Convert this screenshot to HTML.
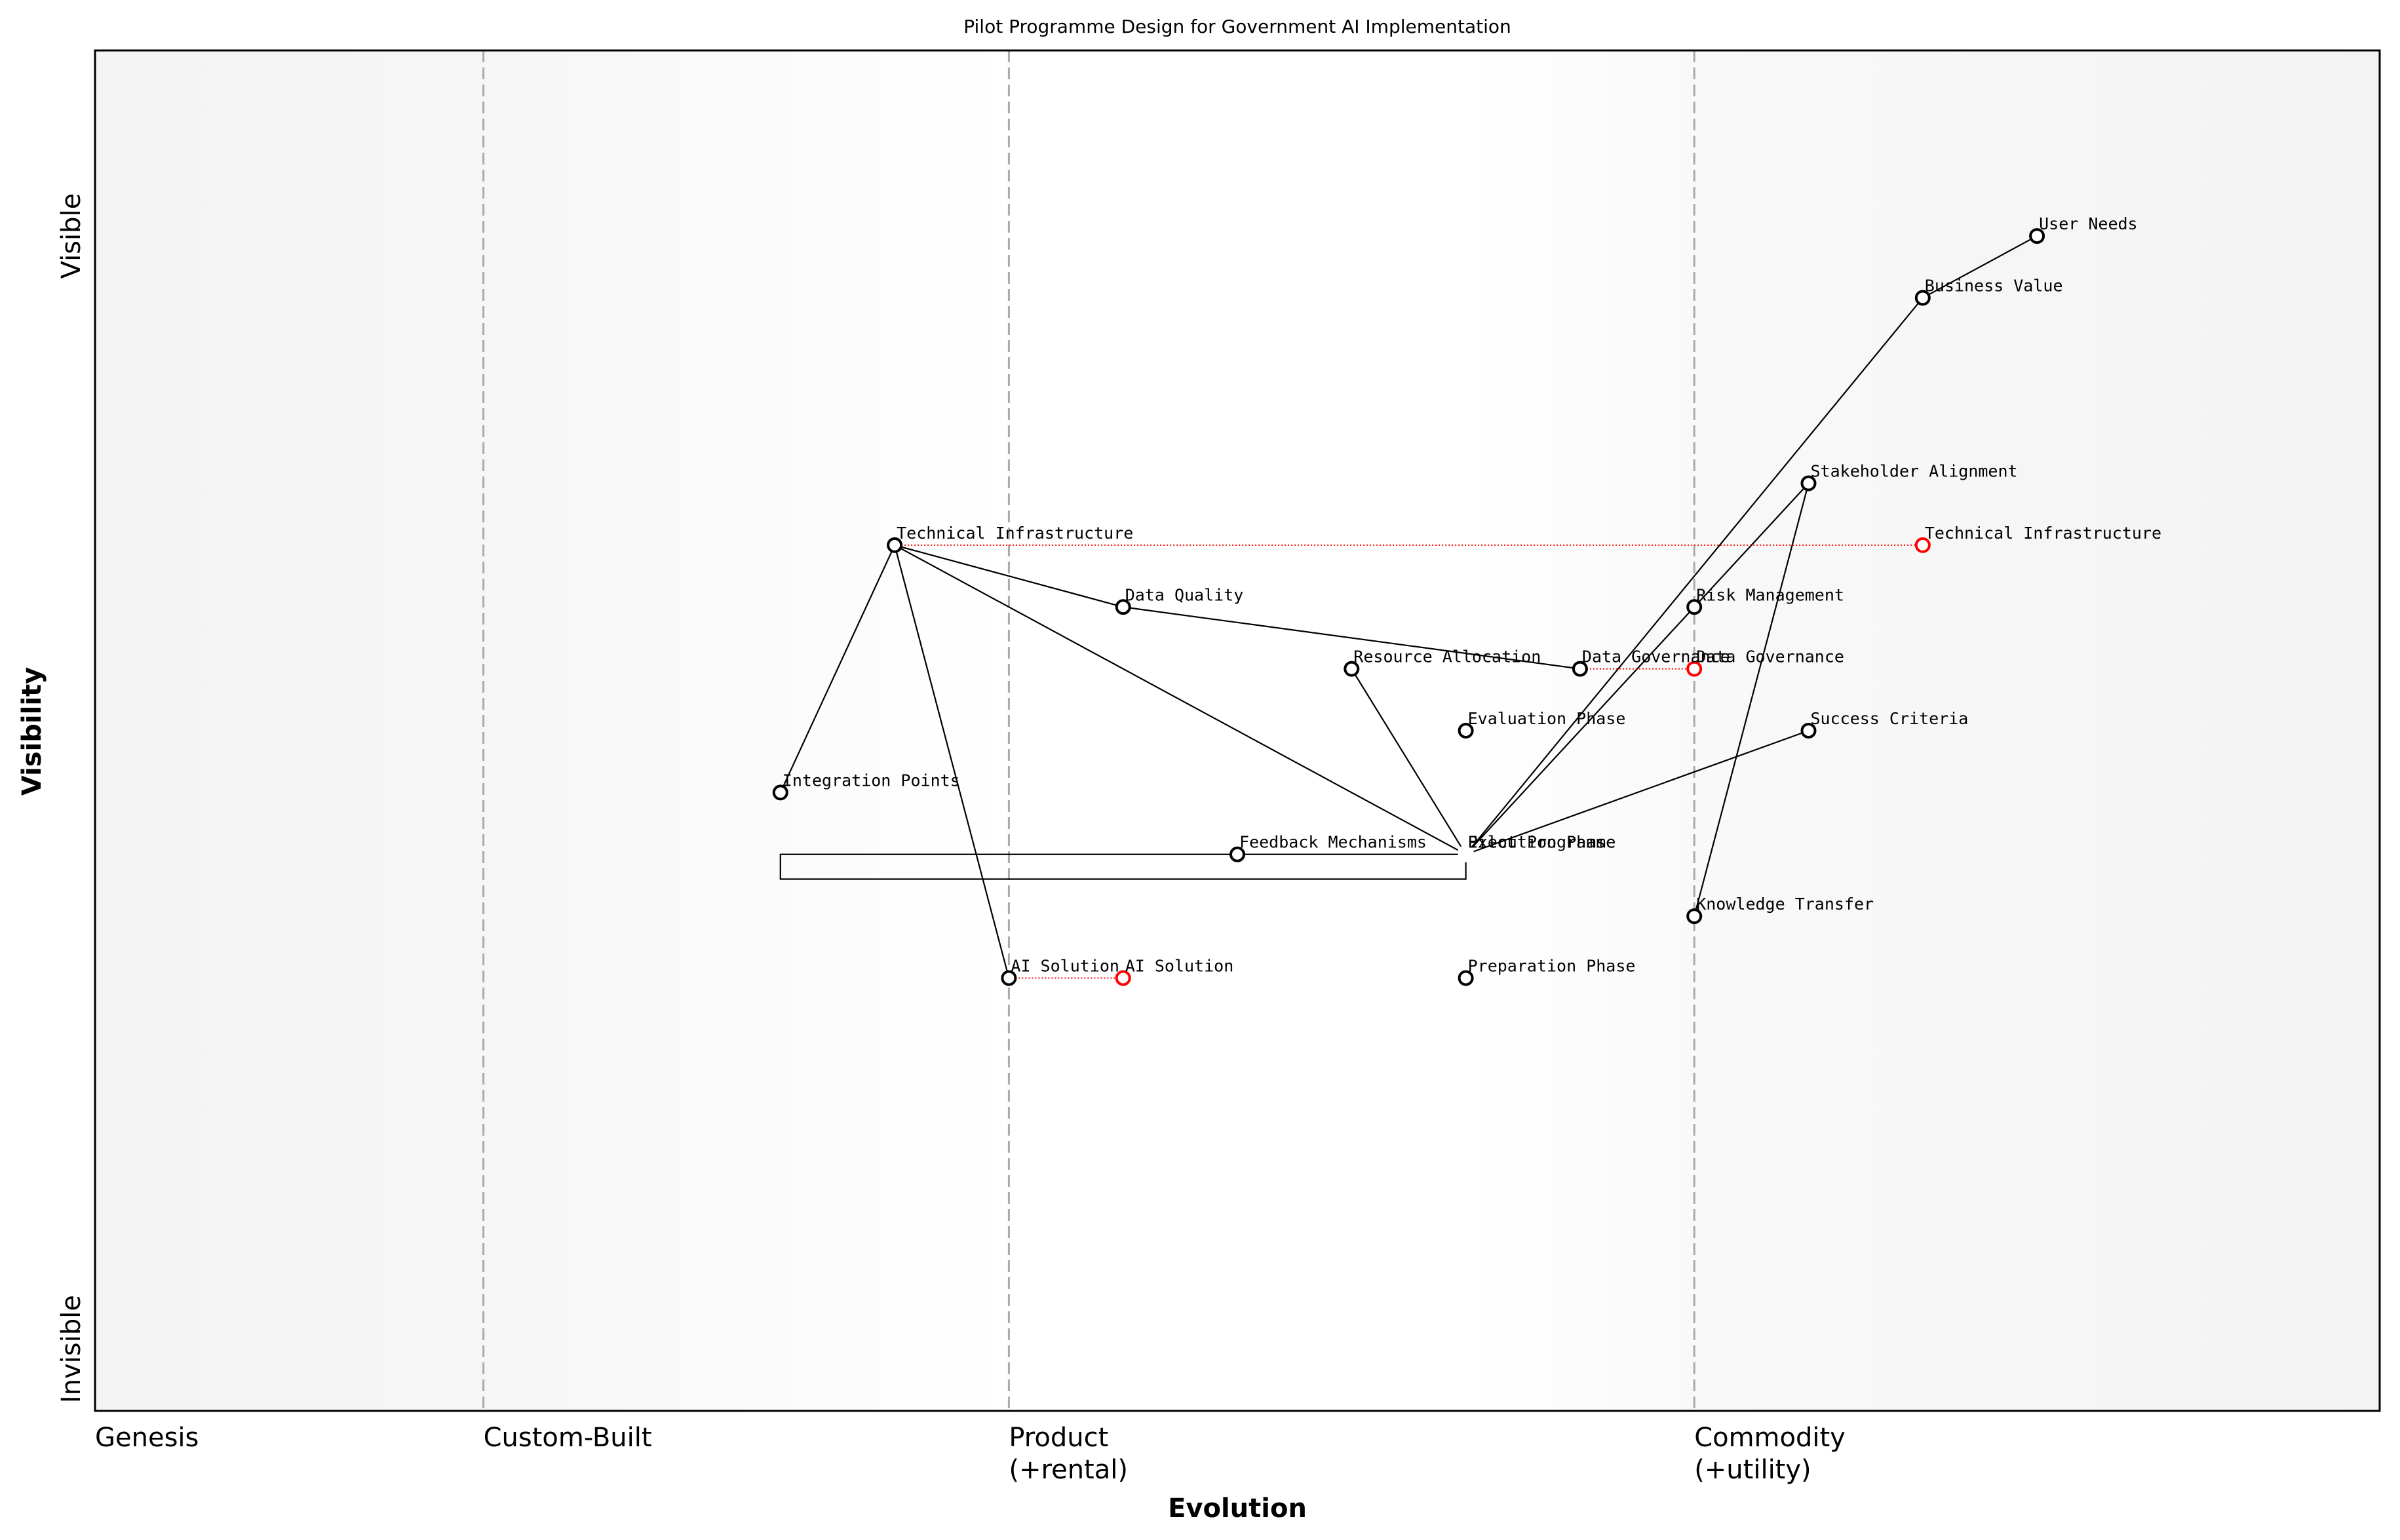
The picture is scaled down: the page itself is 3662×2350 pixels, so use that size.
<!DOCTYPE html>
<html><head><meta charset="utf-8"><style>body{margin:0;background:#fff}svg{display:block}</style></head>
<body>
<svg id="chart" width="3662" height="2350" viewBox="0 0 3662 2350" xmlns="http://www.w3.org/2000/svg" font-family="'DejaVu Sans','Liberation Sans',sans-serif">
<defs>
<linearGradient id="bg" x1="0" x2="1" y1="0" y2="0">
<stop offset="0" stop-color="#f4f4f4"/><stop offset="0.17" stop-color="#f6f6f6"/><stop offset="0.4" stop-color="#ffffff"/><stop offset="0.6" stop-color="#ffffff"/><stop offset="0.7" stop-color="#f9f9f9"/><stop offset="1" stop-color="#f3f3f3"/>
</linearGradient>
</defs>
<rect x="145" y="77" width="3486" height="2076" fill="url(#bg)"/>
<g id="grid"></g><g id="edges"></g><g id="nodes"></g>
<rect x="145" y="77" width="3486" height="2076" fill="none" stroke="#000" stroke-width="3"/>
<text x="1888" y="50" font-size="28" text-anchor="middle">Pilot Programme Design for Government AI Implementation</text>
<text x="1888" y="2315" font-size="40" font-weight="bold" text-anchor="middle">Evolution</text>
<text transform="translate(62,1116) rotate(-90)" font-size="40" font-weight="bold" text-anchor="middle">Visibility</text>
<g id="ticks"></g>
</svg>
<script>
const NS='http://www.w3.org/2000/svg';
const stageNames=['Genesis','Custom-Built','Product','Commodity'];
const stageSub=['','','(+rental)','(+utility)'];
const stagePos=[0,0.17,0.4,0.7];
const yTickLabels=['Visible','Invisible'];
const yTickPos=[0.95,0.05];
const nodeNames=['User Needs','Business Value','Stakeholder Alignment','Technical Infrastructure','Risk Management','Data Quality','Data Governance','Resource Allocation','Evaluation Phase','Success Criteria','Integration Points','Feedback Mechanisms','Knowledge Transfer','AI Solution','Preparation Phase'];
const nodeEvo=[0.85,0.80,0.75,0.35,0.70,0.45,0.65,0.55,0.60,0.75,0.30,0.50,0.70,0.40,0.60];
const nodeVis=[0.95,0.90,0.75,0.70,0.65,0.65,0.60,0.60,0.55,0.55,0.50,0.45,0.40,0.35,0.35];
const hubNames=['Pilot Programme','Execution Phase'];
const hubEvo=[0.60,0.60];
const hubVis=[0.45,0.45];
const edgeFrom=['User Needs','Business Value','Pilot Programme','Stakeholder Alignment','Pilot Programme','Pilot Programme','Technical Infrastructure','Technical Infrastructure','Data Quality','Technical Infrastructure','Technical Infrastructure','Feedback Mechanisms'];
const edgeTo=['Business Value','Pilot Programme','Stakeholder Alignment','Knowledge Transfer','Success Criteria','Resource Allocation','Pilot Programme','Data Quality','Data Governance','Integration Points','AI Solution','Pilot Programme'];
const evoFrom=['Technical Infrastructure','Data Governance','AI Solution'];
const evoTarget=[0.80,0.70,0.45];
const loopX=[0.50,0.30,0.30,0.60,0.60];
const loopY=[0.45,0.45,0.43,0.43,0.445];
const X=v=>145+v*3486, Y=v=>2153-v/1.1*2076;
function mk(tag,attrs,parent){const e=document.createElementNS(NS,tag);for(const k in attrs)e.setAttribute(k,attrs[k]);parent.appendChild(e);return e;}
const grid=document.getElementById('grid'),ticks=document.getElementById('ticks'),edges=document.getElementById('edges'),nodes=document.getElementById('nodes');
stagePos.forEach((p,i)=>{
 if(i>0){const l=mk('line',{x1:X(p),x2:X(p),y1:77,y2:2153,stroke:'#aaa','stroke-width':3,'stroke-dasharray':'18,8'},grid);
 
 }
 const t=mk('text',{x:X(p),y:2207,'font-size':40},ticks);t.textContent=stageNames[i];
 
 
 if(stageSub[i]){const s=mk('text',{x:X(p),y:2256,'font-size':40},ticks);s.textContent=stageSub[i];
 
 }
});
yTickPos.forEach((p,i)=>{const t=mk('text',{transform:`translate(122,${Y(p)}) rotate(-90)`,'font-size':40,'text-anchor':'middle'},ticks);t.textContent=yTickLabels[i];
 
 });
const pos={};
nodeNames.forEach((n,i)=>pos[n]=[nodeEvo[i],nodeVis[i]]);
hubNames.forEach((n,i)=>pos[n]=[hubEvo[i],hubVis[i]]);
edgeFrom.forEach((a,i)=>{const b=edgeTo[i];const l=mk('line',{x1:X(pos[a][0]),y1:Y(pos[a][1]),x2:X(pos[b][0]),y2:Y(pos[b][1]),stroke:'#000','stroke-width':2.2},edges);
 
 });
const lp=mk('polyline',{points:loopX.map((x,i)=>X(x)+','+Y(loopY[i])).join(' '),fill:'none',stroke:'#000','stroke-width':2.2},edges);


evoFrom.forEach((n,i)=>{const l=mk('line',{x1:X(pos[n][0]),y1:Y(pos[n][1]),x2:X(evoTarget[i]),y2:Y(pos[n][1]),stroke:'red','stroke-width':2,'stroke-dasharray':'2,3'},edges);
 
 });
function label(txt,x,y){const t=mk('text',{x:X(x)+3,y:Y(y)-10,'font-size':25,'font-family':"'DejaVu Sans Mono','Liberation Mono',monospace"},nodes);t.textContent=txt;
 
 }
const hr=mk('rect',{x:X(0.6)-12,y:Y(0.45)-12,width:24,height:24,fill:'#fff'},nodes);


hubNames.forEach((n,i)=>label(n,hubEvo[i],hubVis[i]));
evoFrom.forEach((n,i)=>{const c=mk('circle',{cx:X(evoTarget[i]),cy:Y(pos[n][1]),r:10,fill:'#fff',stroke:'red','stroke-width':4},nodes);
 
 
 label(n,evoTarget[i],pos[n][1]);});
nodeNames.forEach((n,i)=>{const c=mk('circle',{cx:X(nodeEvo[i]),cy:Y(nodeVis[i]),r:10,fill:'#fff',stroke:'#000','stroke-width':4},nodes);
 
 
 label(n,nodeEvo[i],nodeVis[i]);});
</script>
</body></html>
